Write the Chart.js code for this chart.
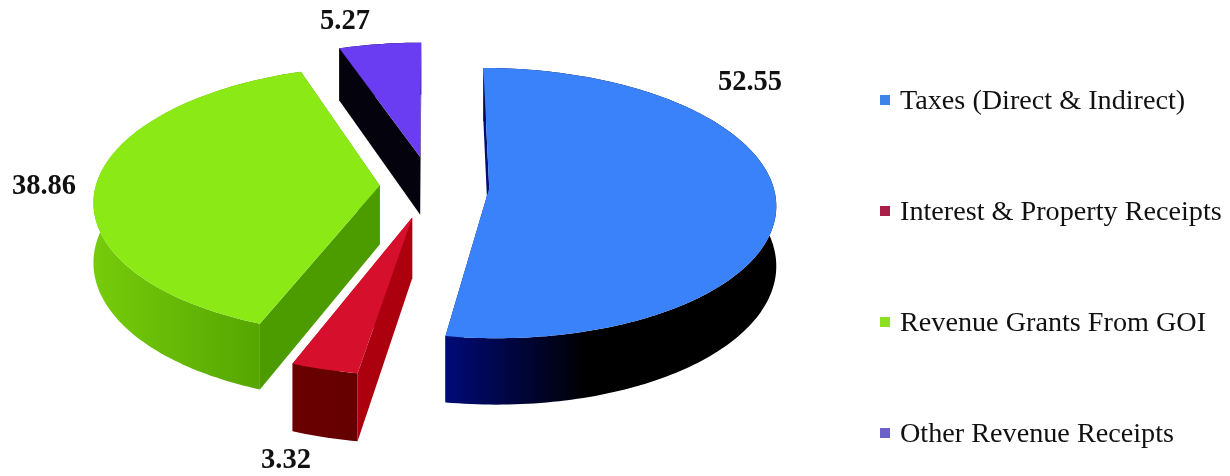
<!DOCTYPE html>
<html>
<head>
<meta charset="utf-8">
<title>Revenue receipts</title>
<script src="https://cdn.jsdelivr.net/npm/chart.js@4/dist/chart.umd.min.js"></script>
<style>
  html, body { margin: 0; padding: 0; background: #fff; overflow: hidden; }
  #wrap { position: relative; width: 1230px; height: 476px; }
  #leyenda { position: absolute; left: 880px; top: 0; margin: 0; padding: 0; list-style: none;
    font: 28.2px "Liberation Serif", serif; color: #111; }
  #leyenda li { position: absolute; left: 0; white-space: nowrap; line-height: 30px; height: 30px; }
  #leyenda i { position: absolute; left: 0; top: 10px; width: 10px; height: 10px; }
  #leyenda span { position: absolute; left: 20px; top: 0; }
</style>
</head>
<body>
<div id="wrap">
  <canvas id="grafica" width="1230" height="476"></canvas>
  <ul id="leyenda"></ul>
</div>
<script>
const categorias = ["Taxes (Direct & Indirect)", "Interest & Property Receipts", "Revenue Grants From GOI", "Other Revenue Receipts"];
const valores = [52.55, 3.32, 38.86, 5.27];
const coloresCara = ["#3a82fa", "#d6102c", "#8bea15", "#6a3cf2"];
const coloresLeyenda = ["#3b84e8", "#a8204a", "#8de020", "#6a60c8"];
const coloresPared = ["#000f70", "#ad000f", "#4c9c00", "#04020c"];
const bordeInicio = ["#000a78", "#6b0000", "#76cc0a", "#04020c"];
const bordeFin = ["#000000", "#640000", "#4e9c00", "#04020c"];
const separacion = [44, 51, 38, 48];   // explosion of each slice
const posEtiquetas = [[750, 83], [286, 461], [44, 187], [345, 22]];
const ordenDibujo = [3, 2, 0, 1];      // back to front

// ======= PROYECCION =======
const centro = { x: 430.5, y: 186 };
const radioX = 284, radioY = 133, altura = 59, fuga = 0.11;

function proyectar(u, v, h) {
  const s = 1 / (1 - fuga * v);
  return { x: centro.x + radioX * u * s, y: centro.y + radioY * v * s + altura * h * s };
}

function trazar(ctx, puntos, relleno) {
  ctx.beginPath();
  puntos.forEach((p, i) => i ? ctx.lineTo(p.x, p.y) : ctx.moveTo(p.x, p.y));
  ctx.closePath();
  ctx.fillStyle = relleno;
  ctx.fill();
}

const pastel3d = {
  id: "pastel3d",
  beforeDatasetDraw(chart) {
    const ctx = chart.ctx;
    const arcos = chart.getDatasetMeta(0).data;
    ctx.save();
    ordenDibujo.forEach(i => {
      const arco = arcos[i];
      const ini = arco.startAngle, fin = arco.endAngle, medio = (ini + fin) / 2;
      const d = arco.options.offset / arco.outerRadius;
      const ox = d * Math.cos(medio), oy = d * Math.sin(medio);
      const punto = (a, r, h) => proyectar(ox + r * Math.cos(a), oy + r * Math.sin(a), h);

      const borde = [];
      const pasos = Math.ceil((fin - ini) / 0.02);
      for (let k = 0; k <= pasos; k++) borde.push(ini + (fin - ini) * k / pasos);

      // paredes radiales
      [ini, fin].forEach(a => {
        trazar(ctx, [punto(a, 0, 0), punto(a, 1, 0), punto(a, 1, 1), punto(a, 0, 1)], coloresPared[i]);
      });

      // canto exterior
      const arriba = borde.map(a => punto(a, 1, 0));
      const abajo = borde.map(a => punto(a, 1, 1)).reverse();
      const xs = arriba.map(p => p.x);
      const xMin = Math.min(...xs), xMax = Math.max(...xs);
      const grad = ctx.createLinearGradient(xMin, 0, i === 0 ? xMin + (xMax - xMin) * 0.43 : xMax, 0);
      grad.addColorStop(0, bordeInicio[i]);
      grad.addColorStop(1, bordeFin[i]);
      trazar(ctx, arriba.concat(abajo), grad);

      // cara superior
      trazar(ctx, [punto(0, 0, 0)].concat(arriba), coloresCara[i]);
    });
    ctx.restore();
    return false;
  },
  afterDraw(chart) {
    const ctx = chart.ctx;
    ctx.save();
    ctx.font = 'bold 28.5px "Liberation Serif", serif';
    ctx.fillStyle = "#111";
    ctx.textAlign = "center";
    ctx.textBaseline = "middle";
    valores.forEach((v, i) => ctx.fillText(v.toFixed(2), posEtiquetas[i][0], posEtiquetas[i][1]));
    ctx.restore();
  }
};

new Chart(document.getElementById("grafica"), {
  type: "pie",
  data: {
    labels: categorias,
    datasets: [{ data: valores, backgroundColor: coloresCara, offset: separacion, borderWidth: 0 }]
  },
  options: {
    responsive: false,
    animation: false,
    plugins: { legend: { display: false }, tooltip: { enabled: false } }
  },
  plugins: [pastel3d]
});

// ======= LEYENDA =======
const filasLeyenda = [85, 196, 307, 418];
const lista = document.getElementById("leyenda");
categorias.forEach((c, i) => {
  const li = document.createElement("li");
  li.style.top = filasLeyenda[i] + "px";
  const caja = document.createElement("i");
  caja.style.background = coloresLeyenda[i];
  const texto = document.createElement("span");
  texto.textContent = c;
  li.append(caja, texto);
  lista.append(li);
});
</script>
</body>
</html>
